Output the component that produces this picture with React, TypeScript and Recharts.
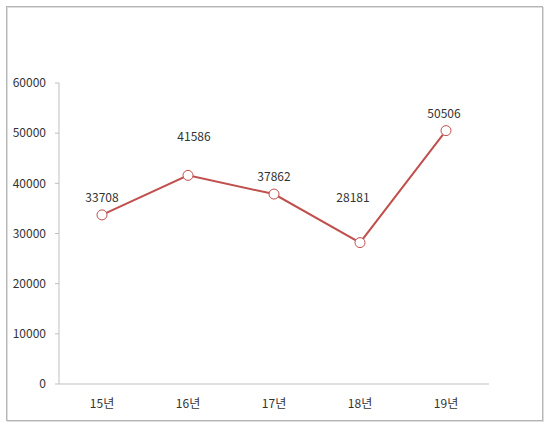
import { LineChart, Line, XAxis, YAxis, LabelList, Customized } from 'recharts';

const years = ['15년', '16년', '17년', '18년', '19년'];
const counts = [33708, 41586, 37862, 28181, 50506];
const yTicks = [0, 10000, 20000, 30000, 40000, 50000, 60000];
const bandEdges = [0, 1, 2, 3, 4, 5];

// label nudges (dx, dy) relative to each point, as placed in the original
const labelNudge = [
  [0, -18],
  [6, -40],
  [0, -19],
  [-7, -46],
  [-2, -18],
];

const data = years.map((year, i) => ({ year, count: counts[i], edge: i }));

const FONT = '"Noto Sans CJK KR", "Noto Sans", sans-serif';
const AXIS = '#bfbfbf';
const RED = '#c0504d';

function PointLabel(props: any) {
  const { x, y, value, index } = props;
  const [dx, dy] = labelNudge[index] || [0, -18];
  return (
    <text
      x={x + dx}
      y={y + dy}
      textAnchor="middle"
      dominantBaseline="central"
      fontSize={12}
      fill="#333"
      fontFamily={FONT}
    >
      {value}
    </text>
  );
}

// outer chart-area border like the spreadsheet export
function Frame() {
  return (
    <g>
      <rect x={7.5} y={7.5} width={536} height={414} fill="none" stroke="#dedede" strokeWidth={1} />
      <rect x={6.5} y={6.5} width={536} height={414} fill="none" stroke="#b5b5b5" strokeWidth={1} />
    </g>
  );
}

export default function App() {
  return (
    <div style={{ width: 550, height: 425 }}>
      <style>{'body{margin:0}'}</style>
      <LineChart
        width={550}
        height={425}
        data={data}
        margin={{ top: 83, right: 61, bottom: 10, left: 9 }}
        style={{ fontFamily: FONT }}
      >
        <Customized component={Frame} />
        <XAxis
          xAxisId="a"
          dataKey="edge"
          type="number"
          domain={[0, 5]}
          ticks={bandEdges}
          allowDataOverflow
          tick={false}
          height={1}
          axisLine={{ stroke: AXIS }}
          tickLine={{ stroke: AXIS }}
          tickSize={4}
        />
        <XAxis
          xAxisId="year"
          dataKey="year"
          scale="band"
          height={30}
          axisLine={false}
          tickLine={false}
          tickSize={4}
          tickMargin={10}
          tick={{ fontSize: 12, fill: '#333' }}
        />
        <YAxis
          width={50}
          domain={[0, 60000]}
          ticks={yTicks}
          axisLine={{ stroke: AXIS }}
          tickLine={{ stroke: AXIS }}
          tickSize={4}
          tickMargin={9}
          tick={{ fontSize: 12, fill: '#333' }}
        />
        <Line
          xAxisId="year"
          dataKey="count"
          stroke={RED}
          strokeWidth={2}
          dot={{ r: 5, fill: '#fff', stroke: RED, strokeWidth: 1 }}
          isAnimationActive={false}
        >
          <LabelList dataKey="count" content={PointLabel} />
        </Line>
      </LineChart>
    </div>
  );
}
